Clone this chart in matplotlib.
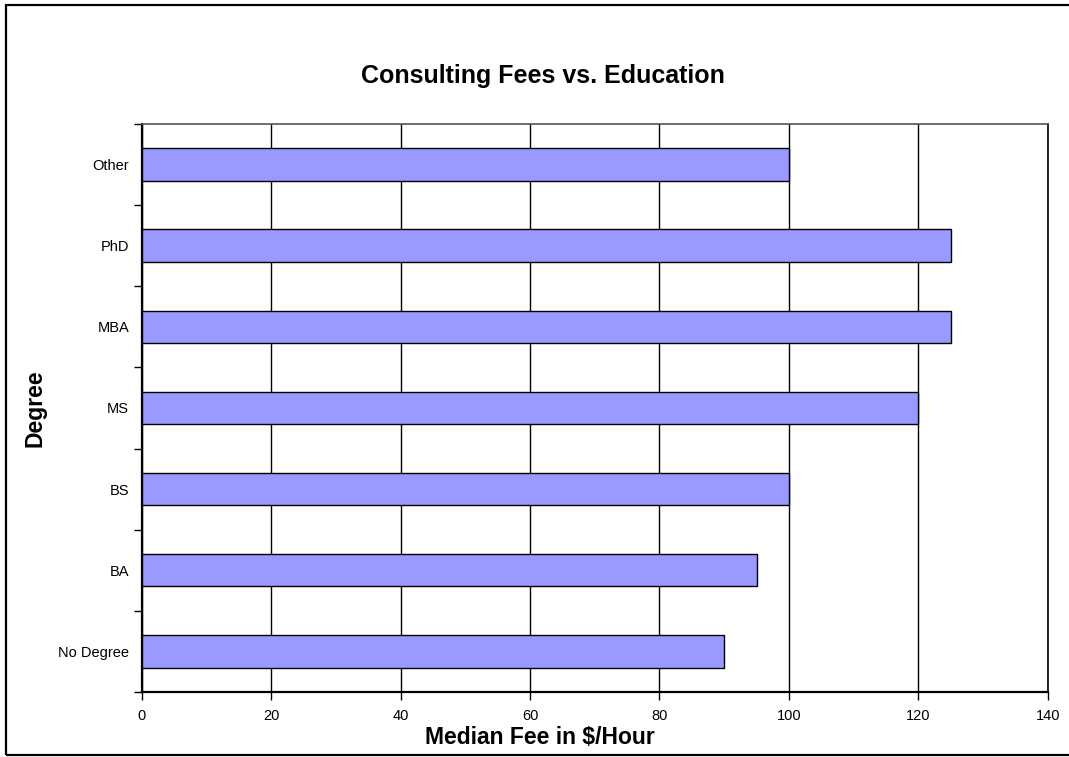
import matplotlib.pyplot as plt
from matplotlib.patches import Rectangle
import numpy as np

plt.rcParams['font.family'] = ['Liberation Sans', 'DejaVu Sans']

degrees = ['No Degree', 'BA', 'BS', 'MS', 'MBA', 'PhD', 'Other']
median_fee = [90, 95, 100, 120, 125, 125, 100]
x_ticks = [0, 20, 40, 60, 80, 100, 120, 140]

fig = plt.figure(figsize=(10.69, 7.57), dpi=100)
ax = fig.add_axes([0.1326, 0.0859, 0.8475, 0.7503])

pos = np.arange(len(degrees))
ax.barh(pos, median_fee, height=0.4, color='#9999FF', edgecolor='black',
        linewidth=1.0, zorder=3)

ax.set_xlim(0, 140)
ax.set_ylim(-0.5, len(degrees) - 0.5)
ax.set_xticks(x_ticks)
ax.set_xticklabels([str(v) for v in x_ticks])
ax.xaxis.grid(True, color='black', linewidth=1.0, zorder=0)

# category labels sit between the tick marks
ax.set_yticks(pos)
ax.set_yticklabels(degrees)
ax.set_yticks(np.arange(-0.5, len(degrees), 1.0), minor=True)
ax.tick_params(axis='y', which='major', length=0, pad=9, labelsize=10.5)
ax.tick_params(axis='y', which='minor', length=6, width=1.0, direction='out')
ax.tick_params(axis='x', length=6, width=1.0, direction='out', pad=6,
               labelsize=10.5)

for side in ['left', 'bottom']:
    ax.spines[side].set_linewidth(1.6)
for side in ['top', 'right']:
    ax.spines[side].set_linewidth(1.2)
ax.spines['top'].set_color('#555555')

# titles are centred on the chart, not on the plot area
fig.text(540 / 1069, 1 - 737 / 757, 'Median Fee in $/Hour', ha='center',
         va='center', fontsize=16.5, fontweight='bold')
fig.text(35 / 1069, 0.461, 'Degree', rotation=90, ha='center', va='center',
         fontsize=16.5, fontweight='bold')
fig.text(543 / 1069, 0.900, 'Consulting Fees vs. Education', ha='center',
         va='center', fontsize=18, fontweight='bold')

# outer chart frame
fig.patches.append(Rectangle((6 / 1069, 2 / 757), 1.1, 750 / 757,
                             transform=fig.transFigure, fill=False,
                             edgecolor='black', linewidth=1.6))

fig.savefig('out.png', dpi=100)
